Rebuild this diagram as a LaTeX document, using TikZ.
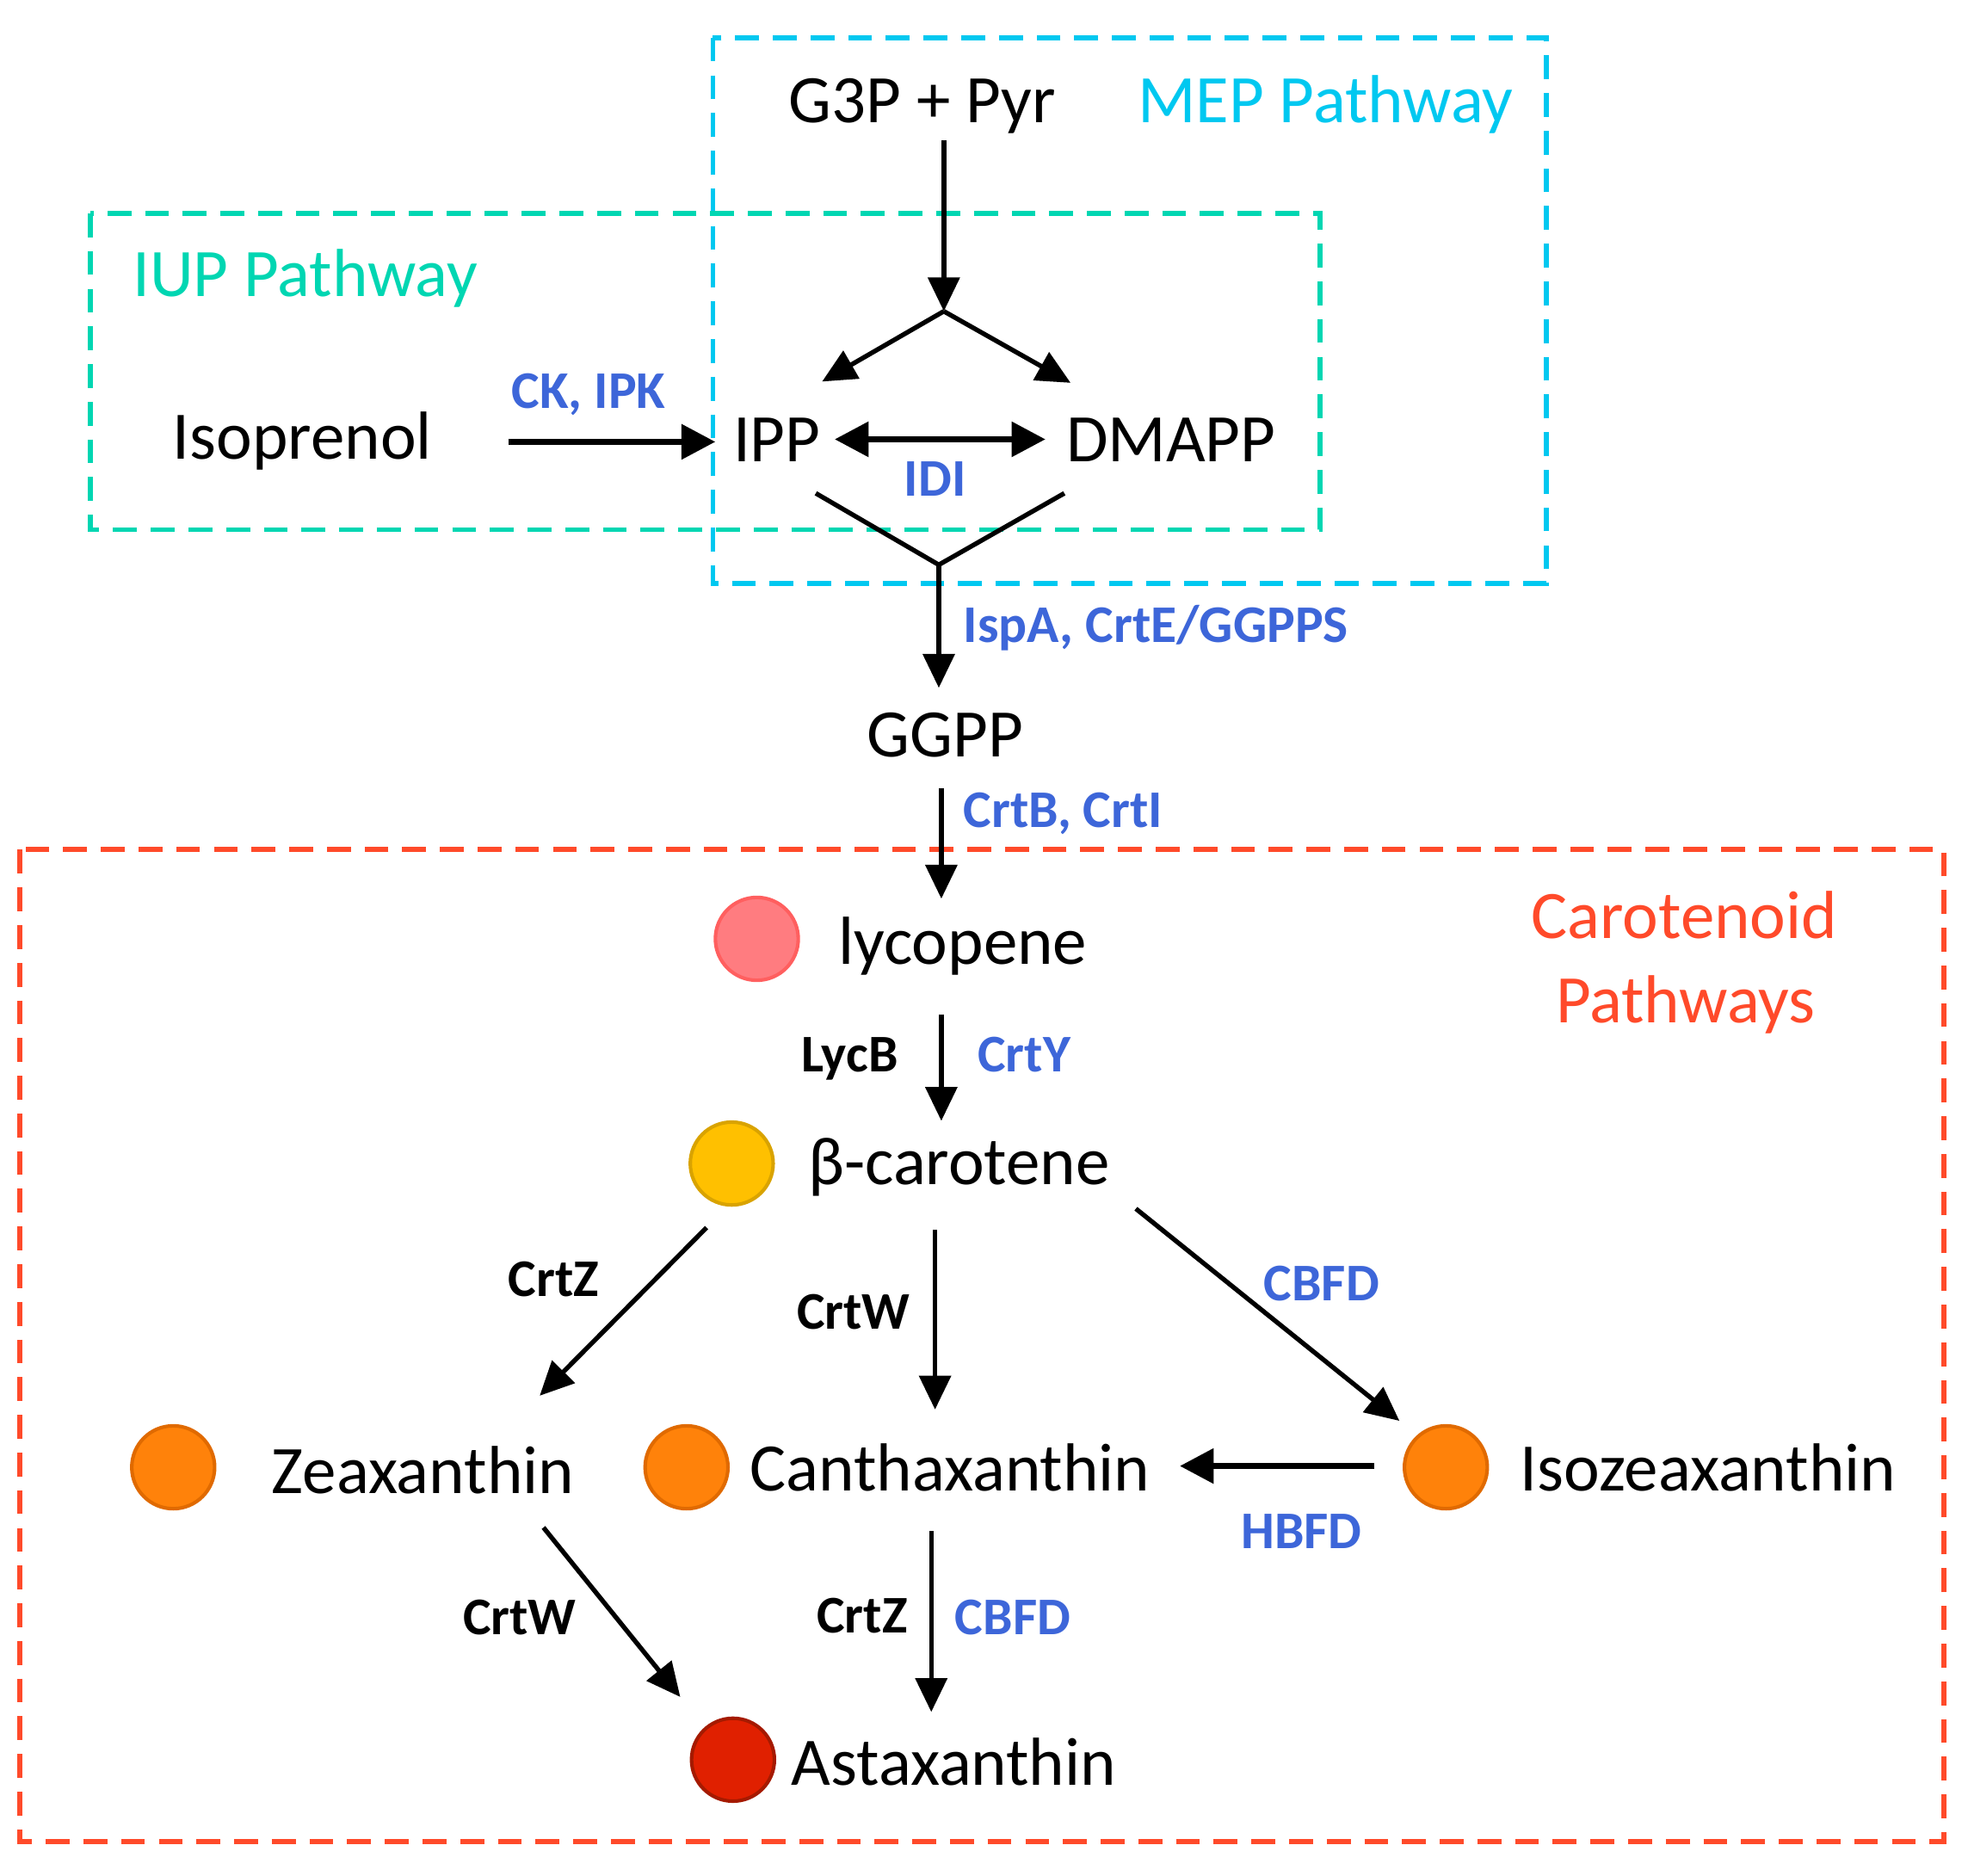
\documentclass[tikz,border=0pt]{standalone}
\usepackage{fontspec}
\setmainfont{Carlito}
\usetikzlibrary{arrows.meta}
\definecolor{enzblue}{HTML}{3D66D9}
\definecolor{mepcol}{HTML}{00C8F0}
\definecolor{iupcol}{HTML}{00D6B2}
\definecolor{carcol}{HTML}{FF4A2A}
\definecolor{lycfill}{HTML}{FF7C80}
\definecolor{lycdraw}{HTML}{FF5F5F}
\definecolor{betafill}{HTML}{FFC000}
\definecolor{betadraw}{HTML}{D9A300}
\definecolor{orfill}{HTML}{FF820A}
\definecolor{ordraw}{HTML}{E06A00}
\definecolor{astfill}{HTML}{E02000}
\definecolor{astdraw}{HTML}{A51A00}
\newcommand\mainsz{\fontsize{15.4}{18}\selectfont}
\newcommand\enzsz{\fontsize{12}{14}\selectfont\bfseries}
\begin{document}
\begin{tikzpicture}[x=0.01cm,y=-0.01cm,
  lbl/.style={inner sep=0pt, anchor=base, font=\mainsz},
  enz/.style={inner sep=0pt, anchor=base, font=\enzsz, text=enzblue},
  enzk/.style={inner sep=0pt, anchor=base, font=\enzsz, text=black},
  boxline/.style={line width=1.15pt, dash pattern=on 0.19cm off 0.11cm},
  tip/.style={},
  arr/.style={-{Triangle[length=0.27cm,width=0.25cm]}, line width=1.05pt},
  arrthick/.style={-{Triangle[length=0.27cm,width=0.27cm]}, line width=1.5pt},
  dot/.style={circle, minimum size=0.66cm, inner sep=0pt, line width=0.8pt}]
\useasboundingbox (0,0) rectangle (1568,1494);
\fill[white] (0,0) rectangle (1568,1494);

% pathway boxes
\draw[boxline, draw=mepcol] (568,30) rectangle (1232,465);
\draw[boxline, draw=iupcol] (72,170) rectangle (1052,422);
\draw[boxline, draw=carcol] (16,677) rectangle (1549,1467);

% box titles
\node[lbl, text=mepcol] (mept) at (1056,98) {MEP Pathway};
\node[lbl, text=iupcol] (iupt) at (243,236) {IUP Pathway};
\node[lbl, text=carcol] (cart1) at (1342,748) {Carotenoid};
\node[lbl, text=carcol] (cart2) at (1343,815) {Pathways};

% metabolites
\node[lbl] (g3p) at (735,98) {G3P + Pyr};
\node[lbl] (isop) at (241,366) {Isoprenol};
\node[lbl] (ipp) at (619,368) {IPP};
\node[lbl] (dmapp) at (933,368) {DMAPP};
\node[lbl] (ggpp) at (753,603) {GGPP};
\node[lbl] (lyc) at (767,768) {lycopene};
\node[lbl] (bcar) at (764,944) {β-carotene};
\node[lbl] (zea) at (337,1190) {Zeaxanthin};
\node[lbl] (can) at (757,1188) {Canthaxanthin};
\node[lbl] (iso) at (1361,1188) {Isozeaxanthin};
\node[lbl] (ast) at (760,1422) {Astaxanthin};

% coloured dots
\node[dot, fill=lycfill, draw=lycdraw] (dlyc) at (603,748) {};
\node[dot, fill=betafill, draw=betadraw] (dbcar) at (583,927) {};
\node[dot, fill=orfill, draw=ordraw] (dzea) at (138,1169) {};
\node[dot, fill=orfill, draw=ordraw] (dcan) at (547,1169) {};
\node[dot, fill=orfill, draw=ordraw] (diso) at (1152,1169) {};
\node[dot, fill=astfill, draw=astdraw] (dast) at (584,1402) {};

% enzyme labels
\node[enz] (ckipk) at (469,325) {CK, IPK};
\node[enz] (idi) at (745,395) {IDI};
\node[enz] (ispa) at (921,512) {IspA, CrtE/GGPPS};
\node[enz] (crtbi) at (847,659) {CrtB, CrtI};
\node[enzk] (lycb) at (677,854) {LycB};
\node[enz] (crty) at (816,854) {CrtY};
\node[enzk] (crtz1) at (441,1033) {CrtZ};
\node[enzk] (crtw1) at (680,1059) {CrtW};
\node[enz] (cbfd1) at (1053,1036) {CBFD};
\node[enz] (hbfd) at (1037,1234) {HBFD};
\node[enzk] (crtw2) at (414,1302) {CrtW};
\node[enzk] (crtz2) at (687,1301) {CrtZ};
\node[enz] (cbfd2) at (807,1302) {CBFD};

% connector end points
\coordinate (g3pout) at (752,112);
\coordinate (split) at (752,248);
\coordinate (ippin) at (655,304);
\coordinate (dmappin) at (853,305);
\coordinate (isopout) at (405,352);
\coordinate (ippleft) at (570,352);
\coordinate (ippright) at (665,350);
\coordinate (dmappleft) at (833,350);
\coordinate (ippbot) at (650,393);
\coordinate (dmappbot) at (848,393);
\coordinate (merge) at (748,450);
\coordinate (ggppin) at (748,548);
\coordinate (ggppout) at (750,628);
\coordinate (lycin) at (750,716);
\coordinate (lycout) at (750,808);
\coordinate (bcarin) at (750,893);
\coordinate (bcarl) at (563,978);
\coordinate (zeain) at (430,1112);
\coordinate (bcarm) at (745,980);
\coordinate (canin) at (745,1123);
\coordinate (bcarr) at (905,963);
\coordinate (isoin) at (1115,1132);
\coordinate (isoout) at (1095,1168);
\coordinate (canright) at (940,1168);
\coordinate (zeaout) at (433,1217);
\coordinate (astinl) at (542,1352);
\coordinate (canout) at (742,1220);
\coordinate (astin) at (742,1364);

% connectors
\draw[arr] (g3pout) -- (split);
\draw[arr] (split) -- (ippin);
\draw[arr] (split) -- (dmappin);
\draw[arrthick] (isopout) -- (ippleft);
\draw[line width=1.5pt, {Triangle[length=0.27cm,width=0.27cm]}-{Triangle[length=0.27cm,width=0.27cm]}] (ippright) -- (dmappleft);
\draw[line width=1.05pt] (ippbot) -- (merge) -- (dmappbot);
\draw[arr] (merge) -- (ggppin);
\draw[arr] (ggppout) -- (lycin);
\draw[arr] (lycout) -- (bcarin);
\draw[arr] (bcarl) -- (zeain);
\draw[arr] (bcarm) -- (canin);
\draw[arr] (bcarr) -- (isoin);
\draw[arrthick] (isoout) -- (canright);
\draw[arr] (zeaout) -- (astinl);
\draw[arr] (canout) -- (astin);
\end{tikzpicture}
\end{document}
